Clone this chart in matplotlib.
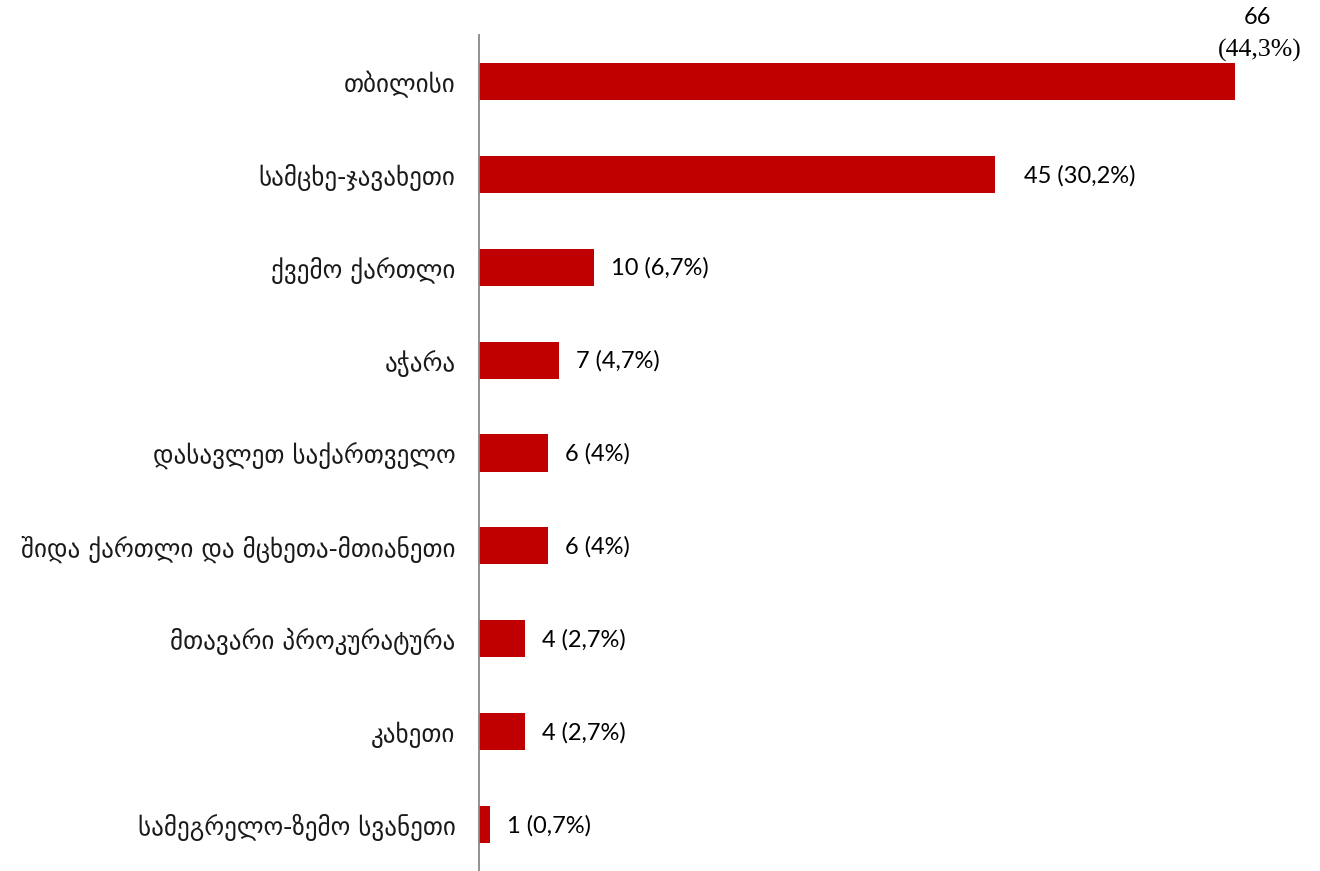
import matplotlib
matplotlib.use("Agg")
import matplotlib.pyplot as plt
from matplotlib.transforms import offset_copy

categories = ["თბილისი", "სამცხე-ჯავახეთი", "ქვემო ქართლი", "აჭარა",
              "დასავლეთ საქართველო", "შიდა ქართლი და მცხეთა-მთიანეთი",
              "მთავარი პროკურატურა", "კახეთი", "სამეგრელო-ზემო სვანეთი"]
values = [66, 45, 10, 7, 6, 6, 4, 4, 1]
counts = ["66", "45", "10", "7", "6", "6", "4", "4", "1"]
percents = ["(44,3%)", "(30,2%)", "(6,7%)", "(4,7%)", "(4%)",
            "(4%)", "(2,7%)", "(2,7%)", "(0,7%)"]

fig = plt.figure(figsize=(13.2, 8.71), dpi=100)
ax = fig.add_axes([479/1320, 0.0, 1 - 479/1320 - 0.012, 1 - 35/871])
pos = list(range(len(categories)))
ax.barh(pos, values, height=0.4, color="#C00000")
ax.set_ylim(len(categories) - 0.5, -0.5)
ax.set_xlim(0, 72)
ax.set_yticks(pos)
ax.set_yticklabels(categories, fontsize=18.0, family=["DejaVu Sans"], color="#1a1a1a")
ax.tick_params(axis="y", length=0, pad=17)
ax.set_xticks([])
for s in ["top", "right", "bottom"]:
    ax.spines[s].set_visible(False)
ax.spines["left"].set_color("#888888")
ax.spines["left"].set_linewidth(1.3)

num_font = ["Lato", "DejaVu Sans"]
for i, v in enumerate(values):
    if i == 0:
        ax.text(68.0, -0.5, counts[i], ha="center", va="center", fontsize=17,
                family=num_font, clip_on=False,
                transform=offset_copy(ax.transData, fig=fig, x=-1, y=17, units="dots"))
        ax.text(68.0, -0.5, percents[i], ha="center", va="center", fontsize=18.5,
                family=["Liberation Serif"], clip_on=False,
                transform=offset_copy(ax.transData, fig=fig, x=1, y=-15, units="dots"))
    else:
        off = 29 if i == 1 else 17
        ax.text(v, i, counts[i] + " " + percents[i], ha="left", va="center",
                fontsize=17, family=num_font,
                transform=offset_copy(ax.transData, fig=fig, x=off, y=-1, units="dots"))

fig.savefig("out.png", dpi=100)
